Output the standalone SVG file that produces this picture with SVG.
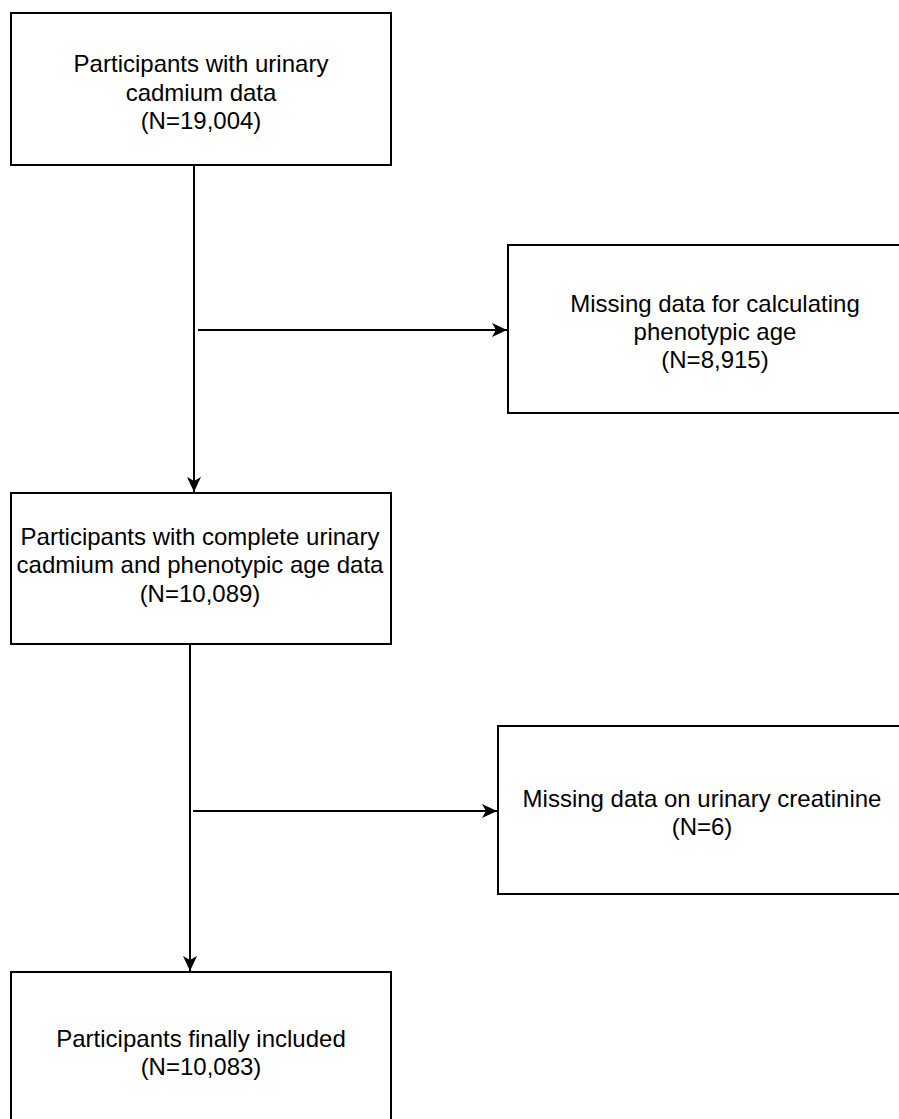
<svg xmlns="http://www.w3.org/2000/svg" width="899" height="1119" viewBox="0 0 899 1119">
<style>
.box{fill:#ffffff;stroke:#000000;stroke-width:2}
.t{font-family:"Liberation Sans",Arial,sans-serif;font-size:24px;fill:#000000;text-anchor:middle}
.c{fill:none;stroke:#000000;stroke-width:2}
</style>
<defs>
<marker id="arr" markerUnits="userSpaceOnUse" markerWidth="16" markerHeight="14" refX="15" refY="7" orient="auto">
<path d="M0,0 L15,7 L0,14 L4,7 Z" fill="#000000"/>
</marker>
</defs>
<rect width="899" height="1119" fill="#ffffff"/>
<g id="connectors">
<line class="c" x1="194" y1="165" x2="194" y2="492" marker-end="url(#arr)"/>
<line class="c" x1="198" y1="330" x2="507" y2="330" marker-end="url(#arr)"/>
<line class="c" x1="190" y1="644" x2="190" y2="971" marker-end="url(#arr)"/>
<line class="c" x1="193" y1="811" x2="497" y2="811" marker-end="url(#arr)"/>
</g>
<g id="node1">
<rect class="box" x="11" y="13" width="380" height="152"/>
<text class="t" x="201" y="72">Participants with urinary</text>
<text class="t" x="201" y="101">cadmium data</text>
<text class="t" x="201" y="129">(N=19,004)</text>
</g>
<g id="node2">
<rect class="box" x="508" y="245" width="414" height="168"/>
<text class="t" x="715" y="312">Missing data for calculating</text>
<text class="t" x="715" y="340">phenotypic age</text>
<text class="t" x="715" y="368">(N=8,915)</text>
</g>
<g id="node3">
<rect class="box" x="11" y="493" width="380" height="151"/>
<text class="t" x="200" y="545">Participants with complete urinary</text>
<text class="t" x="200" y="573">cadmium and phenotypic age data</text>
<text class="t" x="200" y="602">(N=10,089)</text>
</g>
<g id="node4">
<rect class="box" x="498" y="726" width="408" height="168"/>
<text class="t" x="702" y="807">Missing data on urinary creatinine</text>
<text class="t" x="702" y="835">(N=6)</text>
</g>
<g id="node5">
<rect class="box" x="11" y="972" width="380" height="152"/>
<text class="t" x="201" y="1047">Participants finally included</text>
<text class="t" x="201" y="1075">(N=10,083)</text>
</g>
</svg>
